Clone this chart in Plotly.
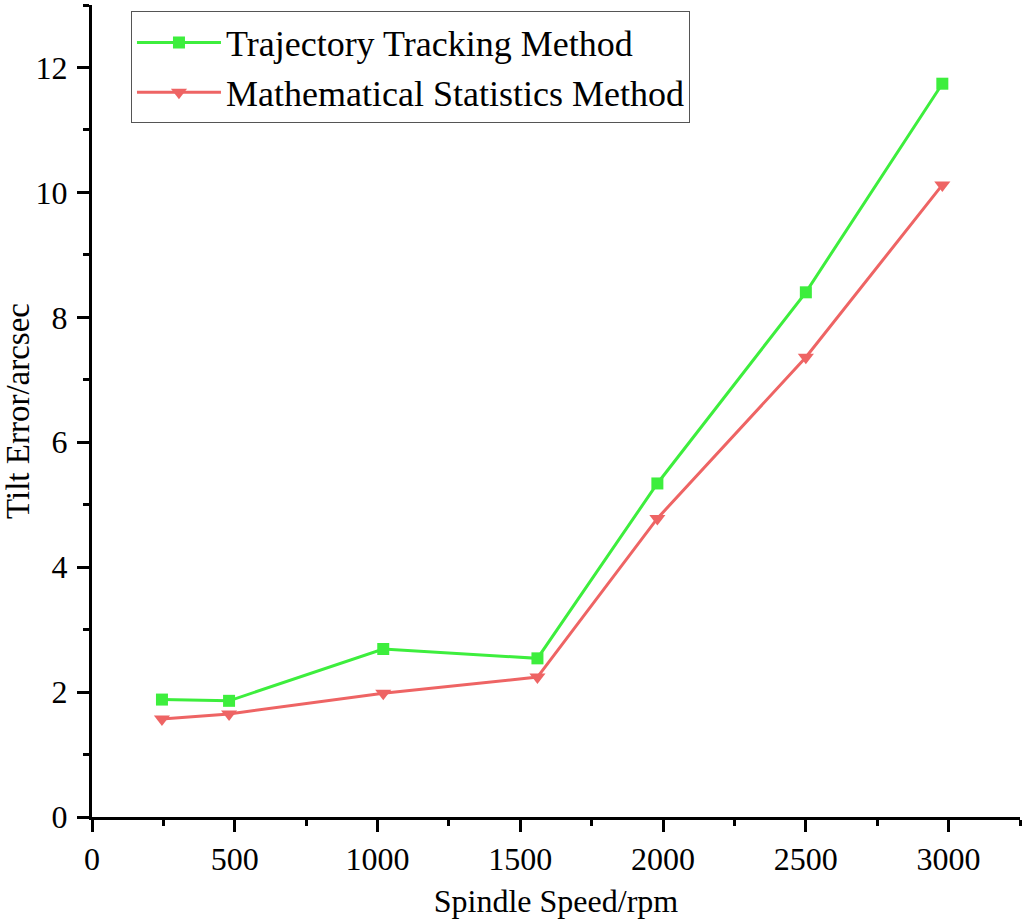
import plotly.graph_objects as go

speed = [245, 480, 1020, 1560, 1980, 2500, 2978]
trajectory = [1.88, 1.86, 2.69, 2.54, 5.34, 8.40, 11.74]
statistics = [1.57, 1.65, 1.98, 2.24, 4.78, 7.36, 10.12]

x_ticks = [0, 500, 1000, 1500, 2000, 2500, 3000]
y_ticks = [0, 2, 4, 6, 8, 10, 12]

FONT = "Liberation Serif, Times New Roman, serif"

fig = go.Figure()
fig.add_trace(go.Scatter(
    x=speed, y=trajectory, mode="lines+markers", name="Trajectory Tracking Method",
    line=dict(color="#3DEE3D", width=3),
    marker=dict(symbol="square", size=12, color="#3DEE3D"),
))
fig.add_trace(go.Scatter(
    x=speed, y=statistics, mode="lines+markers", name="Mathematical Statistics Method",
    line=dict(color="#EE6464", width=3),
    marker=dict(symbol="triangle-down", size=14, color="#EE6464"),
))

axis_common = dict(
    showline=True, linecolor="black", linewidth=3, mirror=False,
    showgrid=False, zeroline=False,
    ticks="outside", ticklen=12, tickwidth=3, tickcolor="black",
    tickfont=dict(family=FONT, size=32, color="black"),
)

fig.update_xaxes(
    range=[0, 3250], tickvals=x_ticks, ticktext=[str(v) for v in x_ticks],
    minor=dict(ticks="outside", ticklen=6, tickwidth=3, tickcolor="black", dtick=250, tick0=0),
    title=dict(text="Spindle Speed/rpm", font=dict(family=FONT, size=32, color="black"), standoff=14),
    **axis_common,
)
fig.update_yaxes(
    range=[0, 13], tickvals=y_ticks, ticktext=[str(v) for v in y_ticks],
    minor=dict(ticks="outside", ticklen=6, tickwidth=3, tickcolor="black", dtick=1, tick0=0),
    title=dict(text="Tilt Error/arcsec", font=dict(family=FONT, size=33, color="black"), standoff=8),
    ticklabelstandoff=3,
    **axis_common,
)

fig.update_layout(
    width=1025, height=922,
    margin=dict(l=92, r=5, t=5, b=105),
    plot_bgcolor="white", paper_bgcolor="white",
    legend=dict(
        x=0.042, y=0.992, xanchor="left", yanchor="top",
        bgcolor="white", bordercolor="#555555", borderwidth=1,
        font=dict(family=FONT, size=36, color="black"),
        itemwidth=84, tracegroupgap=0,
    ),
)

fig.write_html("out.html")
